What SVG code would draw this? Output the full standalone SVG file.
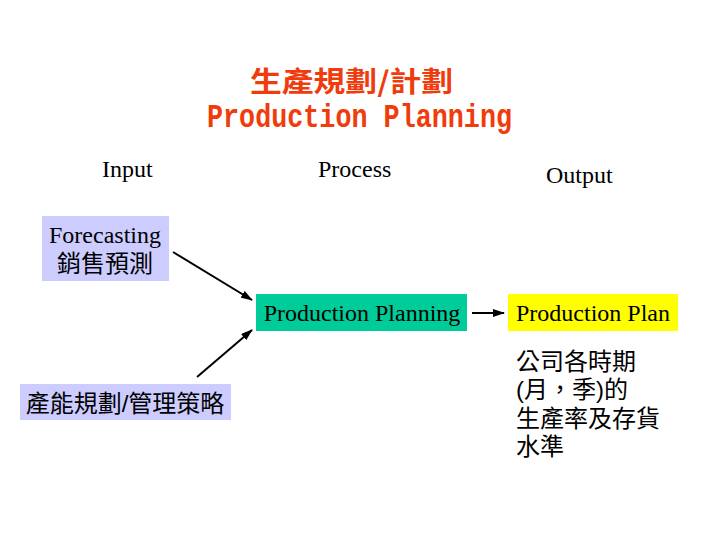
<svg xmlns="http://www.w3.org/2000/svg" width="720" height="540" viewBox="0 0 720 540">
<defs>
<style>
.title{fill:#f03c0c;font-weight:bold}
.serif{font-family:"Liberation Serif","Noto Sans CJK TC",serif;font-size:24px;fill:#000}
.cjk{font-family:"Liberation Sans","Noto Sans CJK TC",sans-serif;font-size:24px;fill:#000}
.conn{stroke:#000;stroke-width:2;fill:none;marker-end:url(#ah)}
</style>
<marker id="ah" markerWidth="12" markerHeight="8" refX="11" refY="4" orient="auto" markerUnits="userSpaceOnUse">
<path d="M0,0 L12,4 L0,8 Z" fill="#000"/>
</marker>
</defs>
<rect width="720" height="540" fill="#fff"/>
<g id="title">
<text class="title" x="250" y="92" font-family="Noto Sans CJK TC,sans-serif" font-size="28" textLength="203" lengthAdjust="spacingAndGlyphs">生產規劃/計劃</text>
<text class="title" x="207" y="127" font-family="Liberation Mono,monospace" font-size="34" textLength="305" lengthAdjust="spacingAndGlyphs">Production Planning</text>
</g>
<g id="headers">
<text class="serif" x="102" y="177">Input</text>
<text class="serif" x="318" y="177">Process</text>
<text class="serif" x="546" y="183">Output</text>
</g>
<g id="forecasting">
<rect x="42" y="216" width="127" height="65" fill="#ccccff"/>
<text class="serif" x="105" y="243" text-anchor="middle">Forecasting</text>
<text class="serif" x="105" y="272" text-anchor="middle">銷售預測</text>
</g>
<g id="capacity">
<rect x="20" y="384" width="211" height="36" fill="#ccccff"/>
<text class="cjk" x="125" y="412" text-anchor="middle">產能規劃/管理策略</text>
</g>
<g id="process">
<rect x="256" y="294" width="211" height="37" fill="#00cc99"/>
<text class="serif" x="362" y="321" text-anchor="middle">Production Planning</text>
</g>
<g id="plan">
<rect x="508" y="294" width="170" height="37" fill="#ffff00"/>
<text class="serif" x="593" y="321" text-anchor="middle">Production Plan</text>
</g>
<g id="output-desc">
<text class="cjk" x="516" y="370">公司各時期</text>
<text class="cjk" x="516" y="398">(月，季)的</text>
<text class="cjk" x="516" y="427">生產率及存貨</text>
<text class="cjk" x="516" y="455">水準</text>
</g>
<g id="connectors">
<line class="conn" x1="173" y1="252" x2="252" y2="300"/>
<line class="conn" x1="197" y1="377" x2="252" y2="330"/>
<line class="conn" x1="472" y1="313" x2="504" y2="313"/>
</g>
</svg>
